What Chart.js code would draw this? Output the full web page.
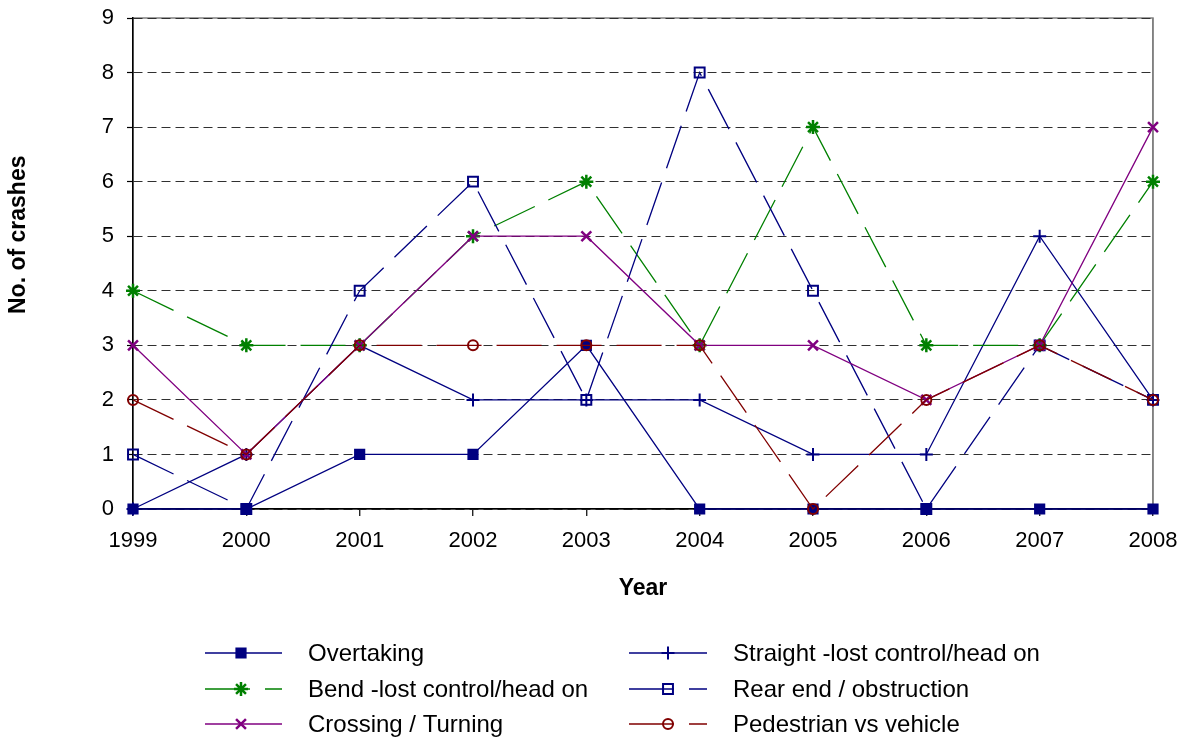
<!DOCTYPE html>
<html>
<head>
<meta charset="utf-8">
<script src="https://cdn.jsdelivr.net/npm/chart.js@4/dist/chart.umd.min.js"></script>
<style>
  html, body { margin: 0; padding: 0; background: #fff; }
  #wrap { width: 1186px; height: 738px; }
</style>
</head>
<body>
<div id="wrap"><canvas id="crashChart" width="1186" height="738"></canvas></div>
<script>
// crash counts per year
const years = ['1999', '2000', '2001', '2002', '2003', '2004', '2005', '2006', '2007', '2008'];
const overtaking = [0, 0, 1, 1, 3, 0, 0, 0, 0, 0];
const straightLost = [0, 1, 3, 2, 2, 2, 1, 1, 5, 2];
const bendLost = [4, 3, 3, 5, 6, 3, 7, 3, 3, 6];
const rearEnd = [1, 0, 4, 6, 2, 8, 4, 0, 3, 2];
const crossing = [3, 1, 3, 5, 5, 3, 3, 2, 3, 7];
const pedestrian = [2, 1, 3, 3, 3, 3, 0, 2, 3, 2];

const FONT = "'Liberation Sans', Arial, sans-serif";
const longDash = [45, 15];

function series(label, data, color, style, radius, fill, dash, order, pw) {
    return {
        label: label,
        data: data,
        borderColor: color,
        borderWidth: 1.3,
        borderDash: dash,
        pointStyle: style,
        pointRadius: radius,
        pointBorderWidth: pw || 2,
        pointBorderColor: color,
        pointBackgroundColor: fill,
        pointHoverRadius: radius,
        tension: 0,
        fill: false,
        clip: false,
        order: order
    };
}

// plot border + two column legend (drawn by hand, like the original)
const frameAndLegend = {
    id: 'frameAndLegend',
    beforeDraw(chart) {
        const { ctx, chartArea: a } = chart;
        ctx.save();
        ctx.strokeStyle = '#808080';
        ctx.lineWidth = 1.5;
        ctx.strokeRect(a.left, a.top, a.right - a.left, a.bottom - a.top);
        ctx.restore();
    },
    afterDraw(chart) {
        const ctx = chart.ctx;
        const cols = [{ x0: 205, x1: 282, mark: 241, text: 308 },
                      { x0: 629, x1: 707, mark: 668, text: 733 }];
        const rows = [653, 689, 724];
        chart.data.datasets.forEach((ds, i) => {
            const c = cols[i % 2];
            const y = rows[Math.floor(i / 2)];
            ctx.save();
            ctx.strokeStyle = ds.borderColor;
            ctx.lineWidth = ds.borderWidth;
            ctx.setLineDash(ds.borderDash || []);
            ctx.beginPath();
            ctx.moveTo(c.x0, y);
            ctx.lineTo(c.x1, y);
            ctx.stroke();
            ctx.setLineDash([]);
            ctx.strokeStyle = ds.pointBorderColor;
            ctx.fillStyle = ds.pointBackgroundColor;
            ctx.lineWidth = ds.pointBorderWidth;
            Chart.helpers.drawPoint(ctx, {
                pointStyle: ds.pointStyle,
                radius: ds.pointRadius,
                rotation: 0,
                borderWidth: ds.pointBorderWidth
            }, c.mark, y);
            ctx.fillStyle = '#000';
            ctx.font = '24px ' + FONT;
            ctx.textBaseline = 'middle';
            ctx.fillText(ds.label, c.text, y + 1);
            ctx.restore();
        });
    }
};

const ctx = document.getElementById('crashChart').getContext('2d');
new Chart(ctx, {
    type: 'line',
    data: {
        labels: years,
        datasets: [
            series('Overtaking', overtaking, '#000080', 'rect', 6.5, '#000080', [], 6),
            series('Straight -lost control/head on', straightLost, '#000080', 'cross', 6.5, '#000080', [], 5),
            series('Bend -lost control/head on', bendLost, '#008000', 'star', 7, '#008000', longDash, 4, 2.5),
            series('Rear end / obstruction', rearEnd, '#000080', 'rect', 7, 'transparent', longDash, 3),
            series('Crossing / Turning', crossing, '#800080', 'crossRot', 7, '#800080', [], 2, 2.5),
            series('Pedestrian vs vehicle', pedestrian, '#800000', 'circle', 5, 'transparent', longDash, 1)
        ]
    },
    options: {
        responsive: false,
        devicePixelRatio: 1,
        animation: false,
        layout: {
            padding: { left: 0, top: 18, right: 33, bottom: 130 }
        },
        plugins: {
            legend: { display: false },
            tooltip: { enabled: false }
        },
        scales: {
            x: {
                type: 'category',
                offset: false,
                afterFit: (scale) => {
                    scale.height = 99;
                    scale.paddingLeft = 0;
                    scale.paddingRight = 0;
                },
                grid: {
                    offset: false,
                    drawTicks: true,
                    tickLength: 7,
                    tickColor: '#000',
                    tickWidth: 1.2,
                    lineWidth: 1.5,
                    color: (c) => c.index === years.length - 1 ? '#808080' : 'transparent'
                },
                border: { display: true, color: '#000', width: 1.5 },
                ticks: {
                    color: '#000',
                    padding: 12,
                    maxRotation: 0,
                    autoSkip: false,
                    font: { family: FONT, size: 22 }
                },
                title: {
                    display: true,
                    text: 'Year',
                    color: '#000',
                    font: { family: FONT, size: 23, weight: 'bold' },
                    padding: { top: 0, bottom: 6 }
                }
            },
            y: {
                min: 0,
                max: 9,
                afterFit: (scale) => {
                    scale.width = 133;
                    scale.paddingTop = 0;
                    scale.paddingBottom = 0;
                },
                grid: {
                    color: '#303030',
                    lineWidth: 1,
                    drawTicks: true,
                    tickLength: 6,
                    tickColor: '#000',
                    tickWidth: 1.2
                },
                border: { display: true, color: '#000', width: 1.5, dash: [9, 5] },
                ticks: {
                    stepSize: 1,
                    color: '#000',
                    padding: 13,
                    font: { family: FONT, size: 22 }
                },
                title: {
                    display: true,
                    text: '         No. of crashes',
                    color: '#000',
                    font: { family: FONT, size: 23, weight: 'bold' },
                    padding: { top: 5, bottom: 0 }
                }
            }
        }
    },
    plugins: [frameAndLegend]
});
</script>
</body>
</html>
